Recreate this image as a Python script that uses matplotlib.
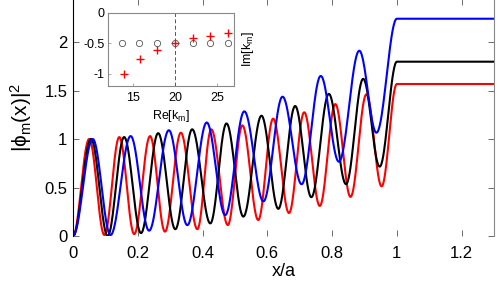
import numpy as np
import matplotlib
matplotlib.use("Agg")
import matplotlib.pyplot as plt

plt.rcParams['font.family'] = ['Liberation Sans', 'DejaVu Sans']
plt.rcParams['mathtext.fontset'] = 'custom'
plt.rcParams['mathtext.rm'] = 'Liberation Sans'
plt.rcParams['mathtext.it'] = 'Liberation Sans'
plt.rcParams['mathtext.bf'] = 'Liberation Sans:bold'

# ---- data: extrema of |phi_m(x)|^2 ----
red_x = [0, 0.050, 0.097, 0.143, 0.189, 0.238, 0.284, 0.333, 0.384, 0.427, 0.478,
         0.523, 0.572, 0.618, 0.667, 0.714, 0.762, 0.810, 0.857, 0.906, 0.953, 1.0]
red_y = [0, 1.00, 0.01, 1.02, 0.02, 1.03, 0.045, 1.065, 0.07, 1.10, 0.113,
         1.14, 0.165, 1.21, 0.237, 1.275, 0.31, 1.36, 0.403, 1.46, 0.512, 1.567]

black_x = [0, 0.056, 0.107, 0.158, 0.210, 0.263, 0.316, 0.368, 0.424, 0.474, 0.526,
           0.582, 0.634, 0.686, 0.736, 0.790, 0.843, 0.896, 0.947, 1.0]
black_y = [0, 1.00, 0.0, 1.02, 0.03, 1.06, 0.07, 1.10, 0.13, 1.16, 0.20,
           1.24, 0.28, 1.34, 0.40, 1.465, 0.535, 1.62, 0.715, 1.797]

blue_x = [0, 0.061, 0.116, 0.178, 0.235, 0.296, 0.353, 0.413, 0.470, 0.529,
          0.588, 0.647, 0.706, 0.765, 0.821, 0.884, 0.937, 1.0]
blue_y = [0, 1.00, 0.01, 1.03, 0.055, 1.09, 0.112, 1.17, 0.216, 1.285,
          0.357, 1.436, 0.534, 1.65, 0.766, 1.91, 1.065, 2.24]

x_end = 1.3

# inset data
re_circ = [13.65, 15.7, 17.8, 20.0, 22.07, 24.13, 26.2]
im_circ = [-0.5, -0.5, -0.5, -0.5, -0.5, -0.5, -0.5]
re_cross = [13.9, 15.8, 17.9, 20.0, 22.07, 24.13, 26.3]
im_cross = [-1.0, -0.76, -0.61, -0.5, -0.42, -0.377, -0.327]

xticks = [0, 0.2, 0.4, 0.6, 0.8, 1.0, 1.2]
xticklabels = ['0', '0.2', '0.4', '0.6', '0.8', '1', '1.2']
yticks = [0, 0.5, 1, 1.5, 2]
yticklabels = ['0', '0.5', '1', '1.5', '2']
in_xticks = [15, 20, 25]
in_yticks = [0, -0.5, -1]
in_yticklabels = ['0', '-0.5', '-1']


def smooth_path(xe, ye, xend):
    xs, ys = [], []
    for i in range(len(xe) - 1):
        t = np.linspace(0, 1, 40)
        xs.append(xe[i] + (xe[i + 1] - xe[i]) * t)
        ys.append(ye[i] + (ye[i + 1] - ye[i]) * (1 - np.cos(np.pi * t)) / 2)
    xs.append(np.array([xe[-1], xend]))
    ys.append(np.array([ye[-1], ye[-1]]))
    return np.concatenate(xs), np.concatenate(ys)


W, H = 498, 281
fig = plt.figure(figsize=(W / 100, H / 100), dpi=100)
ax = fig.add_axes([73 / W, 45 / H, 421 / W, 237 / H])

for xe, ye, c in [(red_x, red_y, 'red'), (black_x, black_y, 'black'), (blue_x, blue_y, 'blue')]:
    xs, ys = smooth_path(xe, ye, x_end)
    ax.plot(xs, ys, color=c, lw=1.5)

ax.set_xlim(0, 1.3)
ax.set_ylim(0, 237 / 97)
ax.set_xticks(xticks)
ax.set_xticklabels(xticklabels)
ax.set_yticks(yticks)
ax.set_yticklabels(yticklabels)
ax.tick_params(direction='in', length=4, width=0.6, colors='#555555', labelcolor='black',
               labelsize=12, top=True, right=True)
ax.tick_params(axis='x', pad=7)
ax.tick_params(axis='y', pad=4)
ax.spines['left'].set_color('black')
ax.spines['left'].set_linewidth(0.8)
ax.spines['bottom'].set_visible(False)
ax.spines['top'].set_visible(False)
ax.spines['right'].set_color('#888888')
ax.spines['right'].set_linewidth(0.8)
ax.set_xlabel('x/a', fontsize=13, labelpad=2)
ax.set_ylabel(r'$|\phi_{\rm m}({\rm x})|^2$', fontsize=15)
ax.yaxis.set_label_coords(-0.093, 0.5)

# inset
axi = fig.add_axes([107.7 / W, (H - 86) / H, 126.6 / W, 73.3 / H])
axi.plot(re_circ, im_circ, 'o', mfc='none', mec='#555555', ms=4.5, mew=0.6)
axi.plot(re_cross, im_cross, '+', color='red', ms=5.5, mew=1.0)
axi.axvline(20, color='#555555', lw=0.7, ls=(0, (4, 2.5)))
axi.set_xlim(12, 27)
axi.set_ylim(-1.2, 0)
axi.set_xticks(in_xticks)
axi.set_yticks(in_yticks)
axi.set_yticklabels(in_yticklabels)
axi.tick_params(direction='in', length=2, width=0.5, colors='#888888', labelcolor='black',
                labelsize=9)
axi.tick_params(axis='x', pad=4)
axi.tick_params(axis='y', pad=2)
for s in axi.spines.values():
    s.set_color('#888888')
    s.set_linewidth(0.8)
axi.set_xlabel(r'Re[k$_{\rm m}$]', fontsize=9, labelpad=3)
axi.yaxis.set_label_position('right')
axi.set_ylabel(r'Im[k$_{\rm m}$]', fontsize=9, labelpad=4)

fig.savefig('out.png', dpi=100)
